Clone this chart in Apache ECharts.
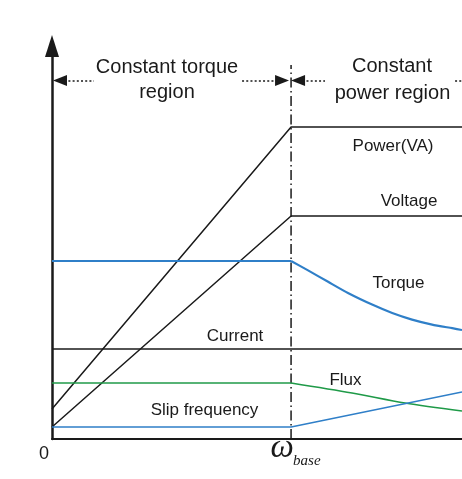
<!DOCTYPE html>
<html><head><meta charset="utf-8">
<script src="https://cdn.jsdelivr.net/npm/echarts@6/dist/echarts.min.js"></script>
<style>html,body{margin:0;padding:0;background:#fff}#c{width:462px;height:479px}</style>
</head><body><div id="c"></div>
<script>
// ---- data (x: speed / base speed, y: relative magnitude) ----
const xTickValues = [0, 1];
const xTickLabels = ['0', 'ω_base'];
const xMax = 1.715;
const yMax = 98.25;
const powerVA = [[0, 7.5], [1, 78], [1.715, 78]];
const voltage = [[0, 3], [1, 55.75], [1.715, 55.75]];
const current = [[0, 22.5], [1.715, 22.5]];
const torqueConst = [[0, 44.5], [1, 44.5]];
const torqueWeak = [[1, 44.5], [1.071, 42.15], [1.155, 39.3], [1.238, 36.5], [1.339, 33.6], [1.423, 31.5], [1.506, 29.85], [1.59, 28.6], [1.674, 27.7], [1.715, 27.25]];
const fluxConst = [[0, 14], [1, 14]];
const fluxWeak = [[1, 14], [1.255, 11.5], [1.477, 9], [1.715, 7]];
const slipFreq = [[0, 3], [1, 3], [1.715, 11.75]];
const baseLine = [[1, 0], [1, 93.5]];
const regionArrowY = 89.6;
const regionSegments = [[0.0335, 0.1757, 'from'], [0.795, 0.9623, 'to'], [1.0293, 1.142, 'from'], [1.686, 1.715, 'none']];

const BLACK = '#1a1a1a', BLUE = '#2f7fc8', GREEN = '#1f9a48';
const SANS = '"Liberation Sans", Arial, sans-serif';
const SERIF = '"Liberation Serif", "Times New Roman", serif';

const chart = echarts.init(document.getElementById('c'), null, {renderer: 'canvas'});

function line(name, data, color, width, smooth, type) {
  return {name, type: 'line', data, symbol: 'none', smooth: smooth || false, silent: true, animation: false,
    lineStyle: {color, width, type: type || 'solid'}, z: 3};
}

const markData = regionSegments.map(([a, b, arrowAt]) => [
  {coord: [a, regionArrowY], symbol: arrowAt === 'from' ? 'triangle' : 'none', symbolSize: [11, 14]},
  {coord: [b, regionArrowY], symbol: arrowAt === 'to' ? 'triangle' : 'none', symbolSize: [11, 14]}
]);

const baseSeries = line('base', baseLine, BLACK, 1.5, false, [10, 3.5, 1.5, 3.5]);
baseSeries.markLine = {silent: true, animation: false, label: {show: false},
  lineStyle: {color: BLACK, width: 1.5, type: [2, 2.2]}, itemStyle: {color: BLACK}, data: markData};

chart.setOption({
  animation: false,
  backgroundColor: '#fff',
  grid: {left: 52, right: 0, top: 46, bottom: 40, containLabel: false},
  xAxis: {type: 'value', min: 0, max: xMax, splitLine: {show: false}, axisTick: {show: false},
    axisLabel: {show: false},
    axisLine: {onZero: false, lineStyle: {color: BLACK, width: 2}}},
  yAxis: {type: 'value', min: 0, max: yMax, splitLine: {show: false}, axisTick: {show: false},
    axisLabel: {show: false},
    axisLine: {onZero: false, symbol: ['none', 'triangle'], symbolSize: [14, 22], lineStyle: {color: BLACK, width: 2.5}}},
  series: [
    baseSeries,
    line('Power(VA)', powerVA, BLACK, 1.5),
    line('Voltage', voltage, BLACK, 1.5),
    line('Current', current, BLACK, 1.5),
    line('Torque', torqueConst, BLUE, 2.2),
    line('Torque ', torqueWeak, BLUE, 2.2, 0.2),
    line('Flux', fluxConst, GREEN, 1.6),
    line('Flux ', fluxWeak, GREEN, 1.6, 0.3),
    line('Slip frequency', slipFreq, BLUE, 1.6)
  ]
});

const p0 = chart.convertToPixel({gridIndex: 0}, [xTickValues[0], 0]);
const p1 = chart.convertToPixel({gridIndex: 0}, [xTickValues[1], 0]);
const [wSym, wSub] = xTickLabels[1].split('_');
function txt(text, x, y, size, extra) {
  return {type: 'text', x, y, silent: true, z: 10,
    style: Object.assign({text, fontSize: size, fontFamily: SANS, fill: BLACK, align: 'center', verticalAlign: 'middle'}, extra || {})};
}
chart.setOption({
  graphic: [
    txt(xTickLabels[0], p0[0] - 8, p0[1] + 15, 18),
    txt(wSym, p1[0] - 9, p1[1] + 9, 33, {fontFamily: SERIF, fontStyle: 'italic'}),
    txt(wSub, p1[0] + 2, p1[1] + 22, 15, {fontFamily: SERIF, fontStyle: 'italic', align: 'left'}),
    txt('Constant torque', 167, 67.5, 20),
    txt('region', 167, 92.5, 20),
    txt('Constant', 392, 66.5, 20),
    txt('power region', 392.5, 93, 20),
    txt('Power(VA)', 393, 146, 17),
    txt('Voltage', 409, 201, 17),
    txt('Torque', 398.5, 283.5, 17),
    txt('Current', 235, 336, 17),
    txt('Flux', 345.5, 380, 17),
    txt('Slip frequency', 204.5, 410, 17)
  ]
});
</script></body></html>
